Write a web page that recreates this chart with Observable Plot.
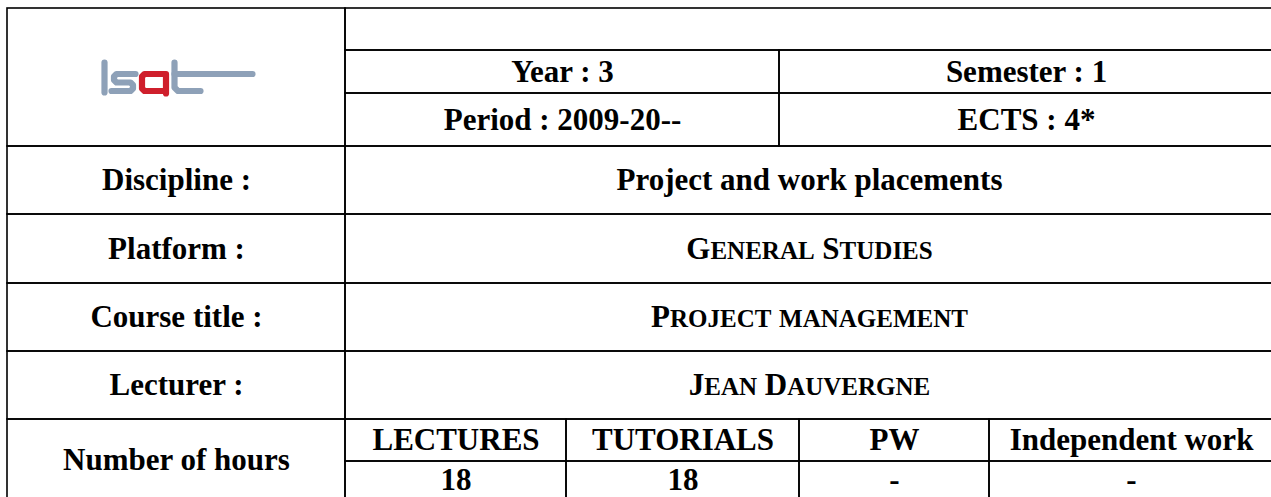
<!DOCTYPE html>
<html>
<head>
<meta charset="utf-8">
<script src="https://cdn.jsdelivr.net/npm/d3@7"></script>
<script src="https://cdn.jsdelivr.net/npm/@observablehq/plot@0.6"></script>
<style>
  html, body { margin: 0; padding: 0; background: #ffffff; }
  #chart svg { display: block; }
</style>
</head>
<body>
<div id="chart"></div>
<script>
// ---------- content ----------
const headerCells = ["Year : 3", "Semester : 1", "Period : 2009-20--", "ECTS : 4*"];
const rowLabels = ["Discipline :", "Platform :", "Course title :", "Lecturer :", "Number of hours"];
const rowValues = ["Project and work placements", "General Studies", "Project management", "Jean Dauvergne"];
const rowValueSmallCaps = [false, true, true, true];
const hourCategories = ["LECTURES", "TUTORIALS", "PW", "Independent work"];
const hourValues = ["18", "18", "-", "-"];

// logo glyph strokes (logo units)
const logoStrokes = [
  {id: "l", part: "grey", pts: [[4, 2], [4, 32]]},
  {id: "s", part: "grey", pts: [[35, 13.5], [16, 13.5], [13.5, 16], [13.5, 19.5], [16, 22], [30, 22], [32.5, 24.5], [32.5, 28], [30, 30.5], [11, 30.5]]},
  {id: "a", part: "red", pts: [[65.5, 33], [65.5, 13.5], [44, 13.5], [41.5, 16], [41.5, 28], [44, 30.5], [65.5, 30.5]]},
  {id: "t1", part: "grey", pts: [[74, 2], [74, 27], [77.5, 30.5], [100, 30.5]]},
  {id: "t2", part: "grey", pts: [[74, 13.5], [152, 13.5]]}
];

// ---------- layout ----------
const W = 1271, H = 497;
const xL = 7, xLabel = 345, xHalf = 779, xR = 1273;
const hourColX = [345, 566, 799, 989, 1273];
const rowY = [8, 50, 93, 146, 214, 283, 351, 419, 461, 498];
const logoOrigin = [100, 60];

// ---------- build table cells ----------
const cells = [];
cells.push({x1: xL, x2: xLabel, y1: rowY[0], y2: rowY[3], text: "", sc: false});
cells.push({x1: xLabel, x2: xR, y1: rowY[0], y2: rowY[1], text: "", sc: false});
headerCells.forEach((t, i) => {
  const col = i % 2, row = Math.floor(i / 2);
  cells.push({
    x1: col === 0 ? xLabel : xHalf, x2: col === 0 ? xHalf : xR,
    y1: rowY[1 + row], y2: rowY[2 + row], text: t, sc: false
  });
});
rowValues.forEach((v, i) => {
  cells.push({x1: xL, x2: xLabel, y1: rowY[3 + i], y2: rowY[4 + i], text: rowLabels[i], sc: false});
  cells.push({x1: xLabel, x2: xR, y1: rowY[3 + i], y2: rowY[4 + i], text: v, sc: rowValueSmallCaps[i]});
});
cells.push({x1: xL, x2: xLabel, y1: rowY[7], y2: rowY[9] + 3, text: rowLabels[4], sc: false});
hourCategories.forEach((c, j) => {
  cells.push({x1: hourColX[j], x2: hourColX[j + 1], y1: rowY[7], y2: rowY[8], text: c, sc: false});
  cells.push({x1: hourColX[j], x2: hourColX[j + 1], y1: rowY[8], y2: rowY[9] + 3, text: hourValues[j], sc: false, tc: (rowY[8] + rowY[9]) / 2});
});

const logoPts = logoStrokes.flatMap(s => s.pts.map(p => ({id: s.id, part: s.part, x: logoOrigin[0] + p[0], y: logoOrigin[1] + p[1]})));

const textStyle = {
  x: d => (d.x1 + d.x2) / 2,
  y: d => d.tc ?? (d.y1 + d.y2) / 2,
  text: "text",
  fontFamily: "Liberation Serif",
  fontWeight: "bold",
  fontSize: 31,
  fill: "black",
  textAnchor: "middle",
  lineAnchor: "middle"
};

const plot = Plot.plot({
  width: W,
  height: H,
  margin: 0,
  x: {domain: [0, W], range: [0, W], axis: null},
  y: {domain: [0, H], range: [0, H], axis: null},
  style: {background: "#ffffff", overflow: "hidden"},
  marks: [
    Plot.rect(cells, {x1: "x1", x2: "x2", y1: "y1", y2: "y2", fill: "none", stroke: "black", strokeWidth: 1.6}),
    Plot.text(cells.filter(d => d.text && !d.sc), textStyle),
    Plot.text(cells.filter(d => d.text && d.sc), {...textStyle, className: "smallcaps"}),
    Plot.line(logoPts.filter(d => d.part === "grey"), {x: "x", y: "y", z: "id", stroke: "#8EA1B8", strokeWidth: 6.2, strokeLinecap: "round", strokeLinejoin: "round", curve: "linear"}),
    Plot.line(logoPts.filter(d => d.part === "red"), {x: "x", y: "y", z: "id", stroke: "#CF1F2C", strokeWidth: 6.2, strokeLinecap: "round", strokeLinejoin: "round", curve: "linear"})
  ]
});

// emulate small caps: uppercase letters full size, lowercase as reduced capitals
d3.select(plot).selectAll("g.smallcaps text").each(function () {
  const s = this.textContent;
  const el = d3.select(this);
  el.text(null);
  const runs = [];
  for (const ch of s) {
    const small = ch !== ch.toUpperCase();
    const last = runs[runs.length - 1];
    if (last && last.small === small) last.t += ch; else runs.push({small, t: ch});
  }
  runs.forEach(r => {
    el.append("tspan").attr("font-size", r.small ? "25px" : "31px").text(r.small ? r.t.toUpperCase() : r.t);
  });
});

document.getElementById("chart").appendChild(plot);
</script>
</body>
</html>
